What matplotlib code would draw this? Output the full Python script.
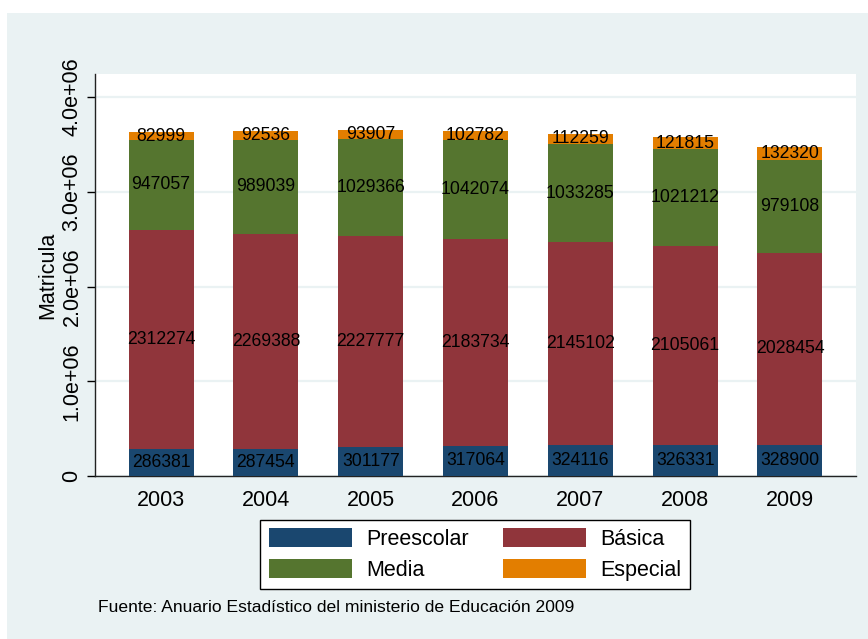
import numpy as np
import matplotlib
matplotlib.use('Agg')
import matplotlib.pyplot as plt
from matplotlib.patches import Rectangle

plt.rcParams['font.family'] = ['Liberation Sans', 'DejaVu Sans']

years = ['2003', '2004', '2005', '2006', '2007', '2008', '2009']
preescolar = [286381, 287454, 301177, 317064, 324116, 326331, 328900]
basica = [2312274, 2269388, 2227777, 2183734, 2145102, 2105061, 2028454]
media = [947057, 989039, 1029366, 1042074, 1033285, 1021212, 979108]
especial = [82999, 92536, 93907, 102782, 112259, 121815, 132320]

series = [('Preescolar', preescolar, '#1a476f'),
          ('Básica', basica, '#90353b'),
          ('Media', media, '#55752f'),
          ('Especial', especial, '#e37e00')]

yticks = [0, 1e6, 2e6, 3e6, 4e6]
ytick_labels = ['0', '1.0e+06', '2.0e+06', '3.0e+06', '4.0e+06']

bg = '#eaf2f3'

fig = plt.figure(figsize=(8.68, 6.39), dpi=100, facecolor='white')
fig.patches.append(Rectangle((7 / 868, 0), 1 - 7 / 868, 1 - 13 / 639,
                             transform=fig.transFigure, facecolor=bg,
                             edgecolor='none', zorder=-10))

ax = fig.add_axes([95 / 868, 163 / 639, 761 / 868, 402 / 639])
ax.set_zorder(1)
ax.set_facecolor('white')

x = np.arange(len(years))
bottom = np.zeros(len(years))
handles = {}
for name, vals, col in series:
    vals = np.array(vals, dtype=float)
    handles[name] = ax.bar(x, vals, bottom=bottom, width=0.62, color=col,
                           label=name, zorder=3)
    for xi, b, v in zip(x, bottom, vals):
        ax.text(xi, b + v / 2, str(int(v)), ha='center', va='center',
                fontsize=12.7, color='black', zorder=4)
    bottom += vals

ax.set_xlim(-0.63, 6.63)
ax.set_ylim(0, 4.243e6)
ax.set_xticks(x)
ax.set_xticklabels(years, fontsize=15.5)
ax.tick_params(axis='x', length=0, pad=10)
ax.set_yticks(yticks)
ax.set_yticklabels(ytick_labels, fontsize=15.5, rotation=90, va='center')
ax.tick_params(axis='y', length=6, width=1, pad=3)
ax.yaxis.grid(True, color=bg, linewidth=1.6, zorder=1)
ax.set_axisbelow(True)
for s in ['top', 'right']:
    ax.spines[s].set_visible(False)
for s in ['left', 'bottom']:
    ax.spines[s].set_color('#222222')
    ax.spines[s].set_linewidth(1)
ax.set_ylabel('Matricula', fontsize=15.5, labelpad=2)

order = ['Preescolar', 'Media', 'Básica', 'Especial']
leg = fig.legend([handles[n] for n in order], order,
                 loc='center', bbox_to_anchor=(475 / 868, 1 - 554.5 / 639),
                 ncol=2, fontsize=15.5, frameon=True, fancybox=False,
                 edgecolor='black', facecolor='white', framealpha=1,
                 handlelength=3.85, handleheight=1.0, handletextpad=0.65,
                 columnspacing=1.6, labelspacing=0.4, borderpad=0.4)
leg.get_frame().set_linewidth(1)

fig.text(98 / 868, 1 - 607 / 639,
         'Fuente: Anuario Estadístico del ministerio de Educación 2009',
         fontsize=12.6, ha='left', va='center')

fig.savefig('out.png', dpi=100, facecolor='white')
